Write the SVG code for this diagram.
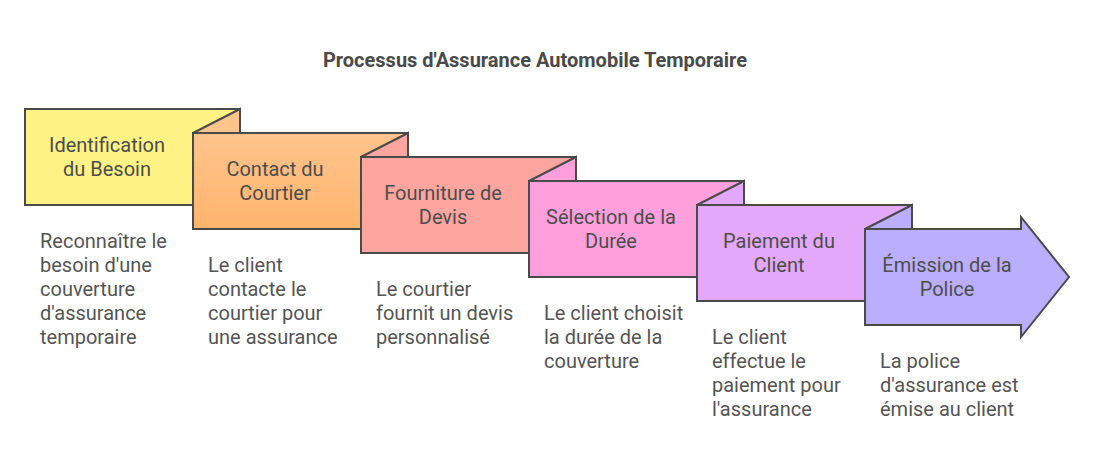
<svg xmlns="http://www.w3.org/2000/svg" width="1094" height="470" viewBox="0 0 1094 470">
<style>
.box{stroke:#4a4a4a;stroke-width:2;stroke-linejoin:miter}
.lbl{font-family:Roboto,"Liberation Sans",sans-serif;font-size:20px;fill:#4d4d4d;text-anchor:middle}
.desc{font-family:Roboto,"Liberation Sans",sans-serif;font-size:20px;fill:#555555}
.title{font-family:Roboto,"Liberation Sans",sans-serif;font-size:20px;font-weight:bold;fill:#4a4a4a;text-anchor:middle}
</style>
<defs>
<linearGradient id="g2" x1="0" y1="0" x2="0" y2="1">
<stop offset="0" stop-color="#ffc48c"/>
<stop offset="1" stop-color="#ffb46e"/>
</linearGradient>
</defs>
<rect width="1094" height="470" fill="#ffffff"/>
<text class="title" x="535" y="67">Processus d'Assurance Automobile Temporaire</text>
<g id="connectors"></g>
<g id="n1">
<rect class="box" fill="#fff285" x="25" y="109" width="215" height="96"/>
<text class="lbl" x="107" y="152">Identification</text>
<text class="lbl" x="107" y="176">du Besoin</text>
<text class="desc" x="40" y="248">Reconnaître le</text>
<text class="desc" x="40" y="272">besoin d'une</text>
<text class="desc" x="40" y="296">couverture</text>
<text class="desc" x="40" y="320">d'assurance</text>
<text class="desc" x="40" y="344">temporaire</text>
</g>
<g id="n2">
<path class="box" fill="#ffc48c" d="M193,133 L240,109 L240,133 Z"/>
<rect class="box" fill="url(#g2)" x="193" y="133" width="215" height="96"/>
<text class="lbl" x="275" y="176">Contact du</text>
<text class="lbl" x="275" y="200">Courtier</text>
<text class="desc" x="208" y="272">Le client</text>
<text class="desc" x="208" y="296">contacte le</text>
<text class="desc" x="208" y="320">courtier pour</text>
<text class="desc" x="208" y="344">une assurance</text>
</g>
<g id="n3">
<path class="box" fill="#ffa5a0" d="M361,157 L408,133 L408,157 Z"/>
<rect class="box" fill="#ffa5a0" x="361" y="157" width="215" height="96"/>
<text class="lbl" x="443" y="200">Fourniture de</text>
<text class="lbl" x="443" y="224">Devis</text>
<text class="desc" x="376" y="296">Le courtier</text>
<text class="desc" x="376" y="320">fournit un devis</text>
<text class="desc" x="376" y="344">personnalisé</text>
</g>
<g id="n4">
<path class="box" fill="#ffa0dc" d="M529,181 L576,157 L576,181 Z"/>
<rect class="box" fill="#ffa0dc" x="529" y="181" width="215" height="96"/>
<text class="lbl" x="611" y="224">Sélection de la</text>
<text class="lbl" x="611" y="248">Durée</text>
<text class="desc" x="544" y="320">Le client choisit</text>
<text class="desc" x="544" y="344">la durée de la</text>
<text class="desc" x="544" y="368">couverture</text>
</g>
<g id="n5">
<path class="box" fill="#e4a8fa" d="M697,205 L744,181 L744,205 Z"/>
<rect class="box" fill="#e4a8fa" x="697" y="205" width="215" height="96"/>
<text class="lbl" x="779" y="248">Paiement du</text>
<text class="lbl" x="779" y="272">Client</text>
<text class="desc" x="712" y="344">Le client</text>
<text class="desc" x="712" y="368">effectue le</text>
<text class="desc" x="712" y="392">paiement pour</text>
<text class="desc" x="712" y="416">l'assurance</text>
</g>
<g id="n6">
<path class="box" fill="#bbaefe" d="M865,229 L912,205 L912,229 Z"/>
<path class="box" fill="#bbaefe" d="M865,229 L1021,229 L1021,217 L1069,277 L1021,337 L1021,325 L865,325 Z"/>
<text class="lbl" x="947" y="272">Émission de la</text>
<text class="lbl" x="947" y="296">Police</text>
<text class="desc" x="880" y="368">La police</text>
<text class="desc" x="880" y="392">d'assurance est</text>
<text class="desc" x="880" y="416">émise au client</text>
</g>
</svg>
